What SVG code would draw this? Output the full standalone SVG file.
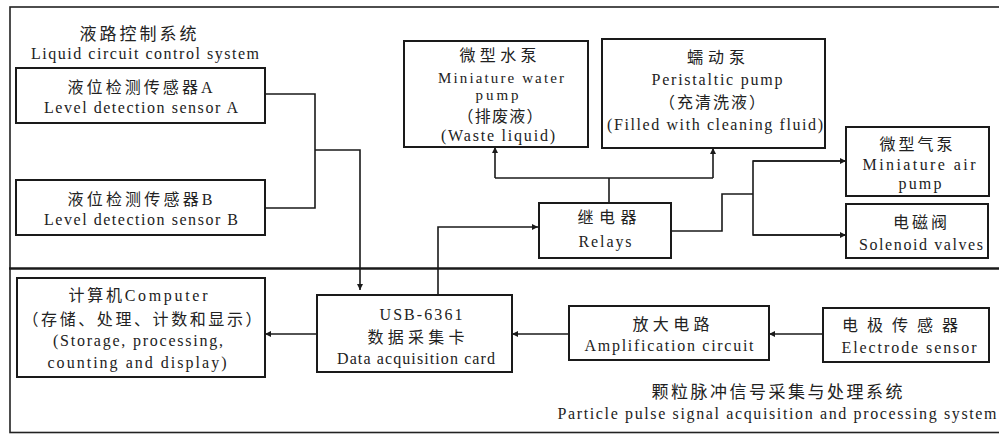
<svg xmlns="http://www.w3.org/2000/svg" width="999" height="434" viewBox="0 0 999 434">
<style>
.box{fill:#fff;stroke:#1a1a1a;stroke-width:2}
.ln{fill:none;stroke:#1a1a1a;stroke-width:1.6}
text{font-family:"Liberation Serif","Noto Sans CJK SC",serif;font-size:16px;fill:#222;text-anchor:middle}
.t{font-size:17px}
.s{font-size:15px}
</style>
<defs>
<marker id="ah" viewBox="0 0 10 10" refX="10" refY="5" markerWidth="6" markerHeight="6" orient="auto" markerUnits="userSpaceOnUse">
<path d="M0,0 L10,5 L0,10 z" fill="#1a1a1a"/>
</marker>
</defs>
<rect width="999" height="434" fill="#fff"/>
<g id="frame">
<rect x="10" y="7" width="1000" height="425.5" fill="none" stroke="#222" stroke-width="1.6"/>
<line x1="9" y1="268.5" x2="999" y2="268.5" stroke="#1a1a1a" stroke-width="2.6"/>
</g>
<g id="title-liquid">
<text x="138" y="40" class="t" textLength="117" lengthAdjust="spacing">液路控制系统</text>
<text x="145" y="59" textLength="228" lengthAdjust="spacing">Liquid circuit control system</text>
</g>
<g id="title-particle">
<text x="777" y="398" class="t" textLength="251" lengthAdjust="spacing">颗粒脉冲信号采集与处理系统</text>
<text x="777" y="419" textLength="439" lengthAdjust="spacing">Particle pulse signal acquisition and processing system</text>
</g>
<g id="connectors">
<polyline class="ln" points="265,94 315,94 315,208 265,208"/>
<polyline class="ln" points="315,150 360,150 360,290" marker-end="url(#ah)"/>
<polyline class="ln" points="438,295 438,227 538,227" marker-end="url(#ah)"/>
<polyline class="ln" points="609,203 609,178"/>
<polyline class="ln" points="495,178 713,178"/>
<line class="ln" x1="495" y1="178" x2="495" y2="147" marker-end="url(#ah)"/>
<line class="ln" x1="713" y1="178" x2="713" y2="148" marker-end="url(#ah)"/>
<polyline class="ln" points="671,231 722,231 722,194 753,194"/>
<polyline class="ln" points="846,161 753,161 753,235 846,235"/>
<line class="ln" x1="753" y1="161" x2="846" y2="161" marker-end="url(#ah)"/>
<line class="ln" x1="753" y1="235" x2="846" y2="235" marker-end="url(#ah)"/>
<line class="ln" x1="317" y1="334" x2="265" y2="334" marker-end="url(#ah)"/>
<line class="ln" x1="569" y1="334" x2="512" y2="334" marker-end="url(#ah)"/>
<line class="ln" x1="823" y1="334" x2="769" y2="334" marker-end="url(#ah)"/>
</g>
<g id="sensorA">
<rect class="box" x="16" y="68" width="249" height="55"/>
<text x="140" y="93" textLength="145" lengthAdjust="spacing">液位检测传感器A</text>
<text x="141" y="113" textLength="194" lengthAdjust="spacing">Level detection sensor A</text>
</g>
<g id="sensorB">
<rect class="box" x="16" y="180" width="249" height="55"/>
<text x="140" y="205" textLength="145" lengthAdjust="spacing">液位检测传感器B</text>
<text x="141" y="225" textLength="194" lengthAdjust="spacing">Level detection sensor B</text>
</g>
<g id="waterpump">
<rect class="box" x="404" y="41" width="184" height="106"/>
<text x="498" y="61" textLength="77" lengthAdjust="spacing">微型水泵</text>
<text x="501" y="83" class="s" textLength="126" lengthAdjust="spacing">Miniature water</text>
<text x="497" y="100" class="s" textLength="43" lengthAdjust="spacing">pump</text>
<text x="500" y="122" textLength="85" lengthAdjust="spacing">（排废液）</text>
<text x="498" y="141" textLength="114" lengthAdjust="spacing">(Waste liquid)</text>
</g>
<g id="peristaltic">
<rect class="box" x="602" y="39" width="223" height="109"/>
<text x="716" y="63" textLength="58" lengthAdjust="spacing">蠕动泵</text>
<text x="717" y="85" textLength="131" lengthAdjust="spacing">Peristaltic pump</text>
<text x="712" y="108" textLength="106" lengthAdjust="spacing">（充清洗液）</text>
<text x="715" y="130" textLength="216" lengthAdjust="spacing">(Filled with cleaning fluid)</text>
</g>
<g id="relays">
<rect class="box" x="539" y="203" width="132" height="55"/>
<text x="607" y="223" textLength="59" lengthAdjust="spacing">继电器</text>
<text x="605" y="247" textLength="53" lengthAdjust="spacing">Relays</text>
</g>
<g id="airpump">
<rect class="box" x="846" y="127" width="143" height="69"/>
<text x="916" y="150" textLength="73" lengthAdjust="spacing">微型气泵</text>
<text x="919" y="170" textLength="113" lengthAdjust="spacing">Miniature air</text>
<text x="920" y="189" textLength="43" lengthAdjust="spacing">pump</text>
</g>
<g id="solenoid">
<rect class="box" x="846" y="204" width="142" height="54"/>
<text x="920" y="228" textLength="54" lengthAdjust="spacing">电磁阀</text>
<text x="921" y="250" textLength="124" lengthAdjust="spacing">Solenoid valves</text>
</g>
<g id="computer">
<rect class="box" x="17" y="278" width="248" height="99"/>
<text x="138" y="301" textLength="139" lengthAdjust="spacing">计算机Computer</text>
<text x="142" y="325" textLength="239" lengthAdjust="spacing">（存储、处理、计数和显示）</text>
<text x="138" y="346" textLength="170" lengthAdjust="spacing">(Storage, processing,</text>
<text x="137" y="368" textLength="179" lengthAdjust="spacing">counting  and display)</text>
</g>
<g id="daq">
<rect class="box" x="317" y="295" width="195" height="77"/>
<text x="421" y="320" textLength="83" lengthAdjust="spacing">USB-6361</text>
<text x="416" y="343" textLength="97" lengthAdjust="spacing">数据采集卡</text>
<text x="416" y="364" textLength="158" lengthAdjust="spacing">Data acquisition card</text>
</g>
<g id="amplifier">
<rect class="box" x="569" y="306" width="200" height="54"/>
<text x="671" y="330" textLength="77" lengthAdjust="spacing">放大电路</text>
<text x="669" y="351" textLength="169" lengthAdjust="spacing">Amplification circuit</text>
</g>
<g id="electrode">
<rect class="box" x="823" y="308" width="166" height="54"/>
<text x="900" y="331" textLength="116" lengthAdjust="spacing">电极传感器</text>
<text x="909" y="353" textLength="135" lengthAdjust="spacing">Electrode sensor</text>
</g>
</svg>
